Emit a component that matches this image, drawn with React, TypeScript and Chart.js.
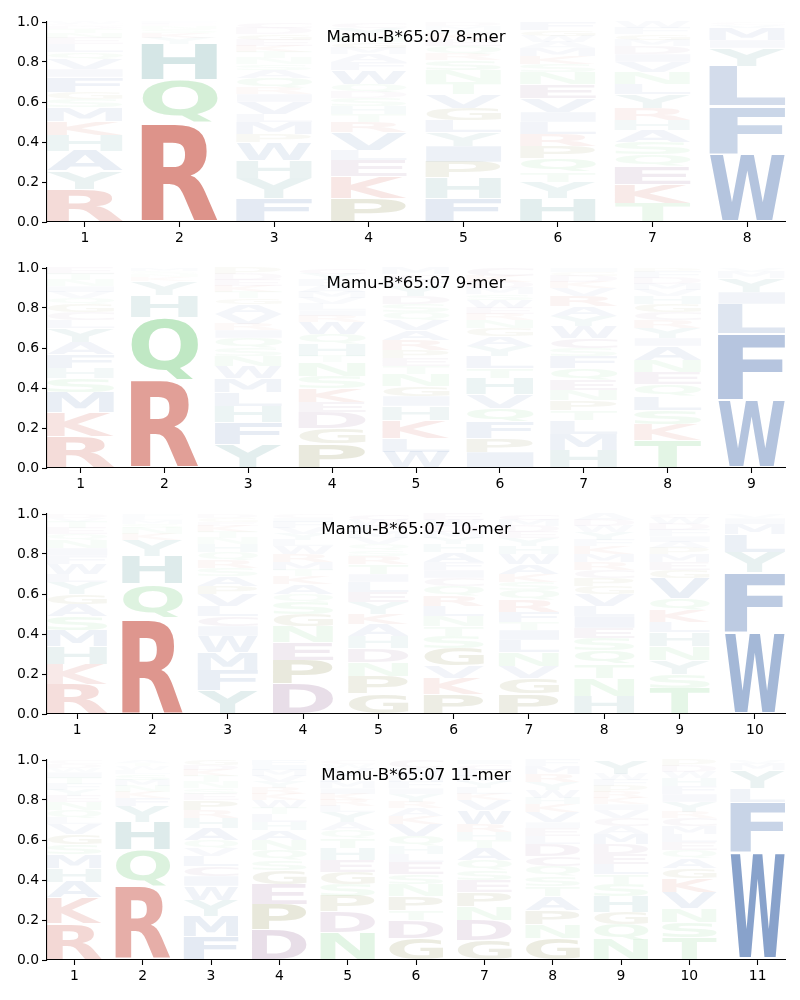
import React, { useEffect, useRef } from "react";
import { Chart, registerables } from "chart.js";

Chart.register(...registerables);

// ---------- data: letters (bottom -> top) and their heights per position ----------
const mer8Title = "Mamu-B*65:07 8-mer";
const mer8Letters: string[] = [
  "RYAHKMSGFIVQLENTDCW",
  "RQHYKSNEF",
  "FYHWPMLVIRQASNTKEGDC",
  "PKELVRTHSDQWFAMGNYC",
  "FHPIYLGVTNSRQEKAMD",
  "HYTQPRLIVENSKMAWGF",
  "TKEQSAHRYLNVIDMGFW",
  "WFLYIMVC",
];
const mer8Heights: number[][] = [
  [0.165, 0.09, 0.1, 0.08, 0.07, 0.07, 0.04, 0.035, 0.075, 0.04, 0.05, 0.035, 0.04, 0.03, 0.025, 0.02, 0.015, 0.01, 0.01],
  [0.495, 0.215, 0.18, 0.03, 0.025, 0.02, 0.015, 0.01, 0.01],
  [0.12, 0.1, 0.09, 0.09, 0.04, 0.06, 0.04, 0.06, 0.04, 0.03, 0.05, 0.04, 0.03, 0.03, 0.03, 0.03, 0.03, 0.03, 0.03, 0.03],
  [0.12, 0.11, 0.08, 0.05, 0.09, 0.05, 0.04, 0.04, 0.04, 0.03, 0.04, 0.07, 0.04, 0.04, 0.03, 0.03, 0.03, 0.04, 0.03],
  [0.12, 0.1, 0.08, 0.08, 0.07, 0.06, 0.06, 0.07, 0.06, 0.06, 0.05, 0.03, 0.04, 0.03, 0.03, 0.02, 0.02, 0.02],
  [0.12, 0.08, 0.05, 0.07, 0.06, 0.06, 0.06, 0.05, 0.07, 0.07, 0.06, 0.04, 0.04, 0.04, 0.03, 0.03, 0.03, 0.04],
  [0.095, 0.095, 0.09, 0.06, 0.06, 0.06, 0.05, 0.06, 0.07, 0.05, 0.06, 0.05, 0.04, 0.04, 0.03, 0.03, 0.03, 0.03],
  [0.34, 0.24, 0.2, 0.09, 0.04, 0.06, 0.015, 0.015],
];

const mer9Title = "Mamu-B*65:07 9-mer";
const mer9Letters: string[] = [
  "RKMSHFAYLCGQVINTE",
  "RQHYKNSM",
  "YFHLMWNSQIRVAGTKEDP",
  "PGDEKSNTHQWRILVMAFYC",
  "WLKHIGNTEPRAVQSDYFCM",
  "IPFQVHTLYAGNREWSMDKC",
  "HMLTPNEQFSCWYARVKDGI",
  "TKSLQENAIYRCGHVMDFP",
  "WFLIYMV",
];
const mer9Heights: number[][] = [
  [0.16, 0.12, 0.1, 0.07, 0.05, 0.07, 0.06, 0.07, 0.04, 0.04, 0.04, 0.03, 0.03, 0.03, 0.03, 0.03, 0.03],
  [0.44, 0.315, 0.11, 0.07, 0.02, 0.015, 0.015, 0.015],
  [0.12, 0.11, 0.08, 0.07, 0.07, 0.06, 0.05, 0.04, 0.05, 0.04, 0.03, 0.05, 0.05, 0.03, 0.03, 0.03, 0.03, 0.03, 0.03],
  [0.12, 0.08, 0.08, 0.05, 0.07, 0.06, 0.07, 0.03, 0.06, 0.05, 0.06, 0.03, 0.03, 0.03, 0.03, 0.03, 0.03, 0.03, 0.03, 0.03],
  [0.08, 0.07, 0.09, 0.07, 0.05, 0.05, 0.06, 0.04, 0.04, 0.04, 0.05, 0.05, 0.05, 0.04, 0.04, 0.04, 0.05, 0.03, 0.03, 0.03],
  [0.08, 0.07, 0.08, 0.07, 0.07, 0.08, 0.05, 0.06, 0.05, 0.05, 0.04, 0.04, 0.03, 0.03, 0.04, 0.03, 0.03, 0.03, 0.03, 0.04],
  [0.09, 0.08, 0.07, 0.05, 0.05, 0.05, 0.05, 0.06, 0.06, 0.04, 0.05, 0.06, 0.05, 0.05, 0.05, 0.04, 0.03, 0.03, 0.02, 0.02],
  [0.14, 0.08, 0.07, 0.07, 0.06, 0.06, 0.06, 0.07, 0.04, 0.05, 0.04, 0.04, 0.04, 0.04, 0.03, 0.03, 0.03, 0.03, 0.02],
  [0.34, 0.33, 0.15, 0.06, 0.07, 0.03, 0.02],
];

const mer10Title = "Mamu-B*65:07 10-mer";
const mer10Letters: string[] = [
  "RKHMSAGYLWFINQETVD",
  "RQHYKNSMLF",
  "YFMWICLVPASRQHNTKEGD",
  "DPENGSQAKTMRWLYVFIC",
  "GPNDHAKYELITRSQVMFWC",
  "PKVGSTNLRQCIFAHYMDWE",
  "PGVNLITFRQSKAWHYEDMC",
  "HNTQSEILVGPCRMKFYWDA",
  "TSYNHLKQVGEMPAIFDWC",
  "WFYLMIV",
];
const mer10Heights: number[][] = [
  [0.15, 0.1, 0.09, 0.08, 0.07, 0.06, 0.05, 0.06, 0.04, 0.05, 0.04, 0.04, 0.04, 0.03, 0.03, 0.03, 0.02, 0.02],
  [0.48, 0.17, 0.14, 0.08, 0.03, 0.03, 0.02, 0.02, 0.015, 0.015],
  [0.12, 0.1, 0.09, 0.08, 0.05, 0.05, 0.05, 0.06, 0.04, 0.05, 0.04, 0.04, 0.04, 0.04, 0.03, 0.03, 0.03, 0.02, 0.02, 0.02],
  [0.15, 0.12, 0.09, 0.08, 0.06, 0.06, 0.04, 0.05, 0.04, 0.03, 0.04, 0.04, 0.04, 0.03, 0.03, 0.03, 0.03, 0.02, 0.02],
  [0.1, 0.09, 0.07, 0.07, 0.06, 0.06, 0.05, 0.06, 0.05, 0.05, 0.04, 0.05, 0.04, 0.03, 0.03, 0.03, 0.03, 0.03, 0.03, 0.03],
  [0.1, 0.08, 0.06, 0.09, 0.06, 0.05, 0.05, 0.05, 0.05, 0.05, 0.04, 0.04, 0.04, 0.05, 0.04, 0.03, 0.03, 0.03, 0.03, 0.03],
  [0.1, 0.08, 0.06, 0.07, 0.06, 0.05, 0.04, 0.05, 0.06, 0.05, 0.04, 0.04, 0.05, 0.05, 0.04, 0.04, 0.03, 0.03, 0.03, 0.03],
  [0.09, 0.09, 0.07, 0.07, 0.06, 0.05, 0.06, 0.05, 0.06, 0.04, 0.04, 0.04, 0.04, 0.04, 0.04, 0.03, 0.04, 0.03, 0.03, 0.03],
  [0.13, 0.07, 0.07, 0.07, 0.07, 0.05, 0.06, 0.06, 0.1, 0.04, 0.04, 0.04, 0.03, 0.03, 0.03, 0.03, 0.03, 0.03, 0.02],
  [0.41, 0.3, 0.1, 0.09, 0.05, 0.03, 0.02],
];

const mer11Title = "Mamu-B*65:07 11-mer";
const mer11Letters: string[] = [
  "RKAHMSGVLQNEYFTIWDC",
  "RQHYFKNMSLWTA",
  "FMYWICLVQAHRPESNTKDG",
  "DPEGSQNAHLTWKRYVMIF",
  "NDPSGEHTQAYLRKIMFVWC",
  "GDTPNSELHQVKARYIFMWC",
  "GDNPESQATHRWVKLYMFCI",
  "GNPATSQCDLEIVKHWYRMF",
  "NQGHSTLEDMACVIKRPFWY",
  "TSNVKGAQELMCRYIFHWDP",
  "WFLYMV",
];
const mer11Heights: number[][] = [
  [0.18, 0.13, 0.08, 0.07, 0.07, 0.05, 0.05, 0.05, 0.03, 0.04, 0.04, 0.03, 0.03, 0.03, 0.03, 0.03, 0.02, 0.02, 0.02],
  [0.37, 0.18, 0.14, 0.08, 0.04, 0.03, 0.03, 0.03, 0.03, 0.02, 0.02, 0.015, 0.015],
  [0.12, 0.1, 0.08, 0.07, 0.05, 0.05, 0.05, 0.04, 0.04, 0.06, 0.05, 0.04, 0.05, 0.03, 0.03, 0.03, 0.03, 0.03, 0.025, 0.025],
  [0.15, 0.13, 0.1, 0.07, 0.05, 0.05, 0.05, 0.05, 0.04, 0.04, 0.03, 0.04, 0.03, 0.03, 0.03, 0.03, 0.03, 0.025, 0.025],
  [0.14, 0.1, 0.08, 0.06, 0.06, 0.06, 0.06, 0.05, 0.04, 0.04, 0.05, 0.03, 0.03, 0.03, 0.03, 0.03, 0.03, 0.04, 0.02, 0.02],
  [0.11, 0.09, 0.05, 0.07, 0.06, 0.05, 0.06, 0.04, 0.04, 0.05, 0.06, 0.04, 0.04, 0.03, 0.04, 0.03, 0.03, 0.03, 0.04, 0.04],
  [0.1, 0.1, 0.07, 0.07, 0.06, 0.05, 0.05, 0.06, 0.04, 0.04, 0.04, 0.07, 0.05, 0.03, 0.03, 0.03, 0.03, 0.03, 0.03, 0.02],
  [0.11, 0.07, 0.07, 0.07, 0.05, 0.05, 0.05, 0.05, 0.06, 0.04, 0.04, 0.03, 0.05, 0.04, 0.03, 0.04, 0.04, 0.04, 0.04, 0.03],
  [0.1, 0.08, 0.06, 0.08, 0.06, 0.05, 0.05, 0.05, 0.05, 0.05, 0.04, 0.04, 0.04, 0.03, 0.03, 0.03, 0.03, 0.03, 0.03, 0.07],
  [0.11, 0.08, 0.07, 0.08, 0.07, 0.05, 0.05, 0.04, 0.04, 0.04, 0.04, 0.04, 0.03, 0.05, 0.04, 0.04, 0.04, 0.03, 0.03, 0.03],
  [0.54, 0.25, 0.07, 0.09, 0.03, 0.02],
];

const yTickValues = [0, 0.2, 0.4, 0.6, 0.8, 1.0];

// ---------- styles ----------
const BLUE = [76, 114, 176];
const RED = [199, 77, 63];
const GREEN = [94, 196, 104];
const TEAL = [64, 141, 141];
const PURPLE = [131, 77, 131];
const OLIVE = [110, 110, 30];
const LETTER_COLOR: Record<string, number[]> = {
  R: RED, K: RED,
  H: TEAL, Y: TEAL,
  Q: GREEN, N: GREEN, S: GREEN, T: GREEN,
  D: PURPLE, E: PURPLE, C: PURPLE,
  P: OLIVE, G: OLIVE,
  W: BLUE, F: BLUE, L: BLUE, M: BLUE, I: BLUE, V: BLUE, A: BLUE,
};
const GLYPH_FONT = 'bold 100px "DejaVu Sans"';
const TICK_FONT = { family: "DejaVu Sans", size: 13.9 };
const VPAD = 0.04;

function glyphColor(letter: string, h: number): string {
  const c = LETTER_COLOR[letter] || BLUE;
  const a = Math.min(1, 1.23 * h);
  return `rgba(${c[0]},${c[1]},${c[2]},${a.toFixed(3)})`;
}

const glyphPlugin = {
  id: "logoGlyphs",
  afterDatasetsDraw(chart: any) {
    const ctx: CanvasRenderingContext2D = chart.ctx;
    chart.data.datasets.forEach((ds: any, di: number) => {
      const meta = chart.getDatasetMeta(di);
      meta.data.forEach((el: any, i: number) => {
        const letter: string = ds.glyphs[i];
        const h: number = ds.data[i].y;
        if (!letter || !(h > 0)) return;
        const p = el.getProps(["x", "y", "base", "width"], true);
        const top = Math.min(p.y, p.base);
        const bottom = Math.max(p.y, p.base);
        const pad = ((bottom - top) * VPAD) / 2;
        const rh = bottom - top - 2 * pad;
        const rw = p.width;
        if (rh <= 0.2) return;
        ctx.save();
        ctx.font = GLYPH_FONT;
        ctx.textAlign = "left";
        ctx.textBaseline = "alphabetic";
        const m = ctx.measureText(letter);
        const gw = m.actualBoundingBoxLeft + m.actualBoundingBoxRight;
        const gh = m.actualBoundingBoxAscent + m.actualBoundingBoxDescent;
        ctx.translate(p.x - rw / 2, top + pad);
        ctx.scale(rw / gw, rh / gh);
        ctx.fillStyle = glyphColor(letter, h);
        ctx.fillText(letter, m.actualBoundingBoxLeft, m.actualBoundingBoxAscent);
        ctx.restore();
      });
    });
  },
};

const titlePlugin = {
  id: "panelTitle",
  afterDraw(chart: any) {
    const ctx: CanvasRenderingContext2D = chart.ctx;
    const a = chart.chartArea;
    ctx.save();
    ctx.font = '16.6px "DejaVu Sans"';
    ctx.fillStyle = "#000";
    ctx.textAlign = "center";
    ctx.textBaseline = "alphabetic";
    ctx.fillText(chart.options.plugins.panelTitle.text, (a.left + a.right) / 2, a.top + 20);
    ctx.restore();
  },
};

function LogoPanel(props: { title: string; letters: string[]; heights: number[][] }) {
  const ref = useRef<HTMLCanvasElement>(null);
  useEffect(() => {
    const { title, letters, heights } = props;
    const n = letters.length;
    const positions = letters.map((_, i) => i + 1);
    const maxLen = Math.max(...letters.map((s) => s.length));
    const datasets: any[] = [];
    for (let k = 0; k < maxLen; k++) {
      datasets.push({
        data: positions.map((x, i) => ({ x, y: heights[i][k] ?? 0 })),
        glyphs: letters.map((s) => s[k] ?? ""),
        backgroundColor: "rgba(0,0,0,0)",
        borderWidth: 0,
        categoryPercentage: 1,
        barPercentage: 0.8,
      });
    }
    const chart = new Chart(ref.current as HTMLCanvasElement, {
      type: "bar",
      data: { datasets },
      options: {
        animation: false,
        responsive: false,
        devicePixelRatio: 1,
        events: [],
        layout: { padding: { left: 0, right: 15, top: 22, bottom: 0 } },
        plugins: {
          legend: { display: false },
          tooltip: { enabled: false },
          title: { display: false },
          panelTitle: { text: title },
        } as any,
        scales: {
          x: {
            type: "linear",
            min: 0.6,
            max: n + 0.4,
            offset: false,
            stacked: true,
            afterBuildTicks: (s: any) => {
              s.ticks = positions.map((v) => ({ value: v }));
            },
            afterFit: (s: any) => {
              s.height = 24;
            },
            ticks: {
              autoSkip: false,
              maxRotation: 0,
              padding: 3,
              color: "#000",
              font: TICK_FONT,
              callback: (v: any) => String(v),
            },
            grid: { offset: false, drawOnChartArea: false, drawTicks: true, tickLength: 5, tickWidth: 1.1, tickColor: "#000" },
            border: { display: true, color: "#000", width: 1.1 },
          },
          y: {
            type: "linear",
            min: 0,
            max: 1,
            stacked: true,
            afterBuildTicks: (s: any) => {
              s.ticks = yTickValues.map((v) => ({ value: v }));
            },
            afterFit: (s: any) => {
              s.width = 47;
            },
            ticks: {
              padding: 3,
              color: "#000",
              font: TICK_FONT,
              callback: (v: any) => Number(v).toFixed(1),
            },
            grid: { drawOnChartArea: false, drawTicks: true, tickLength: 5, tickWidth: 1.1, tickColor: "#000" },
            border: { display: true, color: "#000", width: 1.1 },
          },
        } as any,
      },
      plugins: [glyphPlugin, titlePlugin],
    } as any);
    return () => chart.destroy();
  }, []);
  return <canvas ref={ref} width={800} height={246} style={{ display: "block", width: 800, height: 246 }} />;
}

export default function App() {
  return (
    <div style={{ position: "absolute", left: 0, top: 0, width: 800, height: 1000, background: "#fff" }}>
      <LogoPanel title={mer8Title} letters={mer8Letters} heights={mer8Heights} />
      <LogoPanel title={mer9Title} letters={mer9Letters} heights={mer9Heights} />
      <LogoPanel title={mer10Title} letters={mer10Letters} heights={mer10Heights} />
      <LogoPanel title={mer11Title} letters={mer11Letters} heights={mer11Heights} />
    </div>
  );
}
